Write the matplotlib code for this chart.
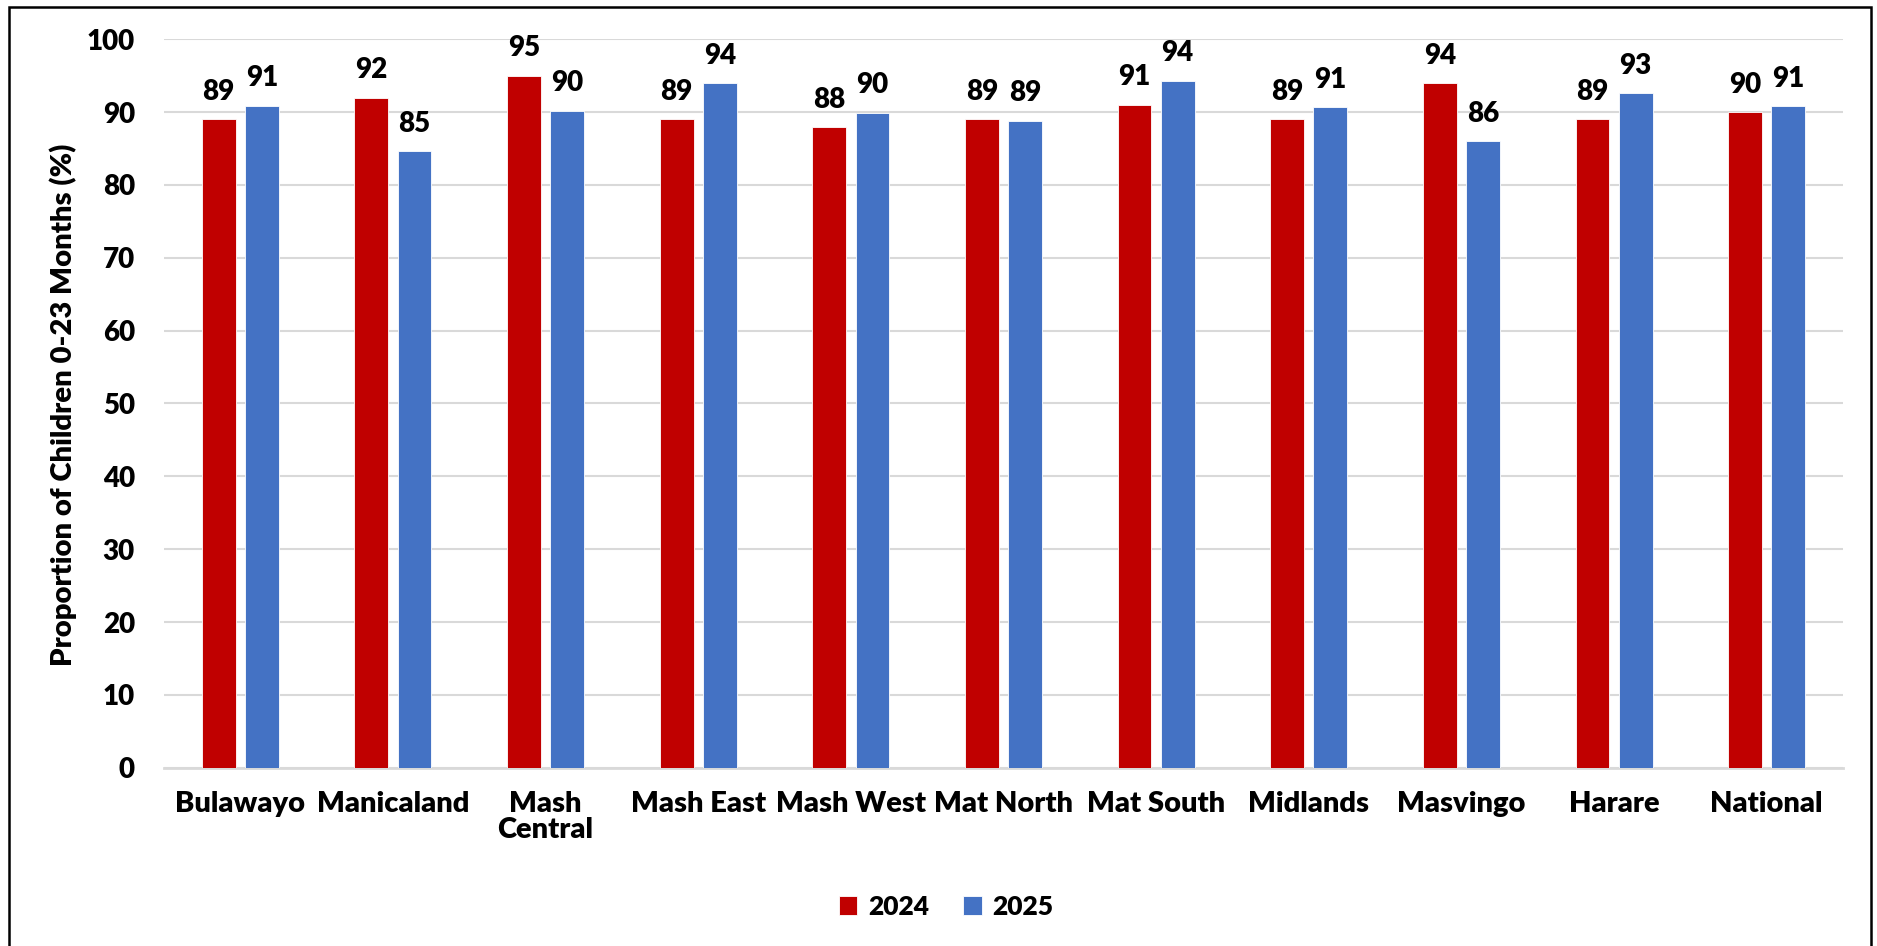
import matplotlib
matplotlib.use("Agg")
import matplotlib.pyplot as plt
from matplotlib.patches import Rectangle
import numpy as np

categories = ["Bulawayo", "Manicaland", "Mash\nCentral", "Mash East", "Mash West",
              "Mat North", "Mat South", "Midlands", "Masvingo", "Harare", "National"]
values_2024 = [89.0, 92.0, 95.0, 89.0, 87.9, 89.0, 91.0, 89.0, 94.0, 89.0, 90.0]
values_2025 = [90.9, 84.6, 90.2, 94.0, 89.9, 88.8, 94.3, 90.7, 86.0, 92.6, 90.8]
series_names = ["2024", "2025"]
yticks = [0, 10, 20, 30, 40, 50, 60, 70, 80, 90, 100]
ylabel = "Proportion of Children 0-23 Months (%)"

colors = ["#C00000", "#4472C4"]
FONT = ["Lato", "DejaVu Sans"]
WEIGHT = "heavy"
plt.rcParams["font.family"] = FONT
plt.rcParams["font.weight"] = WEIGHT

W, H = 1877, 946
fig = plt.figure(figsize=(W / 100, H / 100), dpi=100)
ax = fig.add_axes([164 / W, 1 - 767.7 / H, (1843 - 164) / W, (767.7 - 39.3) / H])

x = np.arange(len(categories))
bw = 0.222
gap = 0.061
off = (bw + gap) / 2
b1 = ax.bar(x - off, values_2024, bw, color=colors[0], edgecolor="white", linewidth=0.6,
            label=series_names[0], zorder=3)
b2 = ax.bar(x + off, values_2025, bw, color=colors[1], edgecolor="white", linewidth=0.6,
            label=series_names[1], zorder=3)

for bars, vals in ((b1, values_2024), (b2, values_2025)):
    for rect, v in zip(bars, vals):
        ax.annotate(f"{v:.0f}", (rect.get_x() + rect.get_width() / 2, v),
                    xytext=(0, 14), textcoords="offset points", ha="center", va="baseline",
                    fontsize=20, fontweight=WEIGHT, color="black")

ax.set_xlim(-0.5, len(categories) - 0.5)
ax.set_ylim(0, 100)
ax.set_yticks(yticks)
ax.set_yticklabels([str(t) for t in yticks], fontsize=20, fontweight=WEIGHT)
ax.set_xticks(x)
ax.set_xticklabels(categories, fontsize=21, fontweight=WEIGHT, linespacing=1.0, va="top")
ax.tick_params(axis="both", length=0)
ax.tick_params(axis="y", pad=21)
ax.tick_params(axis="x", pad=17)
ax.grid(axis="y", color="#D9D9D9", linewidth=1.5, zorder=0)
for s in ["top", "right", "left"]:
    ax.spines[s].set_visible(False)
ax.spines["bottom"].set_color("#D9D9D9")
ax.spines["bottom"].set_linewidth(2.0)

# y-axis title as figure text, sized to span the same length as in the reference
yl = fig.text(63 / W, 1 - 404.5 / H, ylabel, rotation=90, ha="center", va="center",
              fontsize=18, fontweight=WEIGHT, rotation_mode="anchor")
fig.canvas.draw()
r = fig.canvas.get_renderer()
h = yl.get_window_extent(r).height
yl.set_fontsize(18 * 522.0 / h)

leg = fig.legend(handles=[b1, b2], labels=series_names, loc="center",
                 bbox_to_anchor=(0.504, 1 - 906.7 / H), ncol=2, frameon=False,
                 prop={"family": FONT, "weight": WEIGHT, "size": 19},
                 handlelength=0.7, handleheight=0.7, handletextpad=0.4, columnspacing=1.3)

fig.patches.append(Rectangle((9 / W, -0.05), (1871 - 9) / W, 1 - 7 / H + 0.05,
                             transform=fig.transFigure, fill=False, edgecolor="black",
                             linewidth=1.8))

fig.savefig("out.png", dpi=100)
